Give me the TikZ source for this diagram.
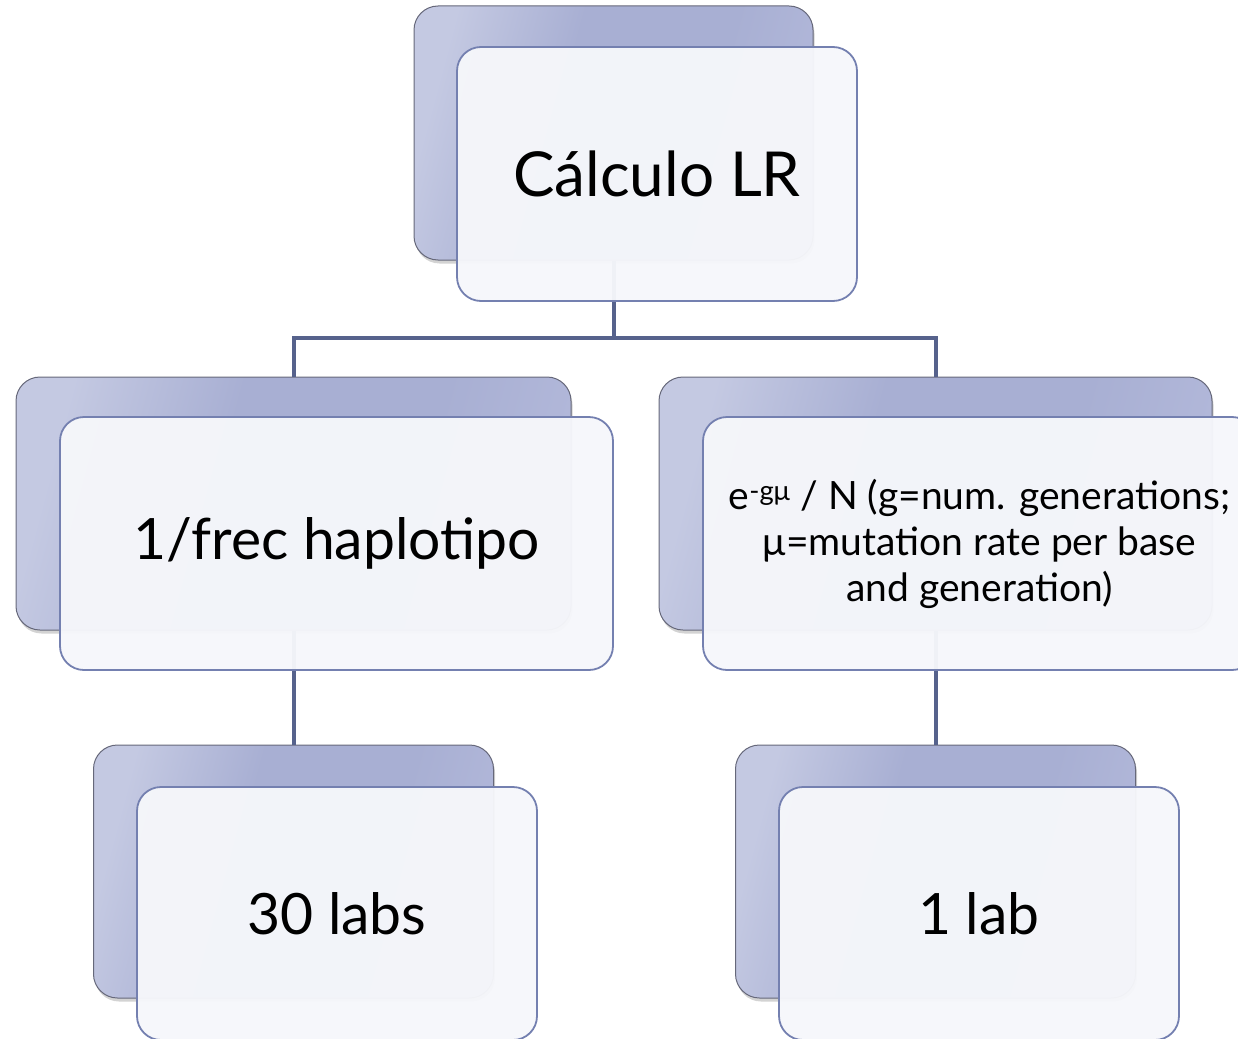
\documentclass[tikz,border=0pt]{standalone}
\usepackage{fontspec}
\setmainfont{Lato}
\usetikzlibrary{shadows}
\definecolor{backA}{HTML}{C4C9E2}
\definecolor{backB}{HTML}{A8AFD3}
\definecolor{backC}{HTML}{B1B7D9}
\definecolor{backedge}{HTML}{66687A}
\definecolor{frontfill}{HTML}{F6F7FB}
\definecolor{frontedge}{HTML}{7480B0}
\definecolor{linkcol}{HTML}{56628C}
% light on the left, deeper blue through the middle, a little lighter at the right
\pgfdeclarehorizontalshading{backshade}{100bp}{%
  color(0bp)=(backA); color(25bp)=(backA); color(42bp)=(backB);
  color(62bp)=(backB); color(75bp)=(backC); color(100bp)=(backC)}
\tikzset{
  backbox/.style={rectangle, rounded corners=24pt, inner sep=0pt,
    draw=backedge, line width=1pt,
    shading=backshade, shading angle=-15,
    drop shadow={opacity=0.35, shadow xshift=1.5pt, shadow yshift=-3.5pt}},
  frontbox/.style={rectangle, rounded corners=24pt, inner sep=0pt,
    draw=frontedge, line width=1.8pt, fill=frontfill, fill opacity=0.96,
    draw opacity=1, text opacity=1, text=black, align=center},
  conn/.style={draw=linkcol, line width=4pt},
  big/.style={font=\fontsize{62}{66}\selectfont},
  mid/.style={font=\fontsize{57}{62}\selectfont},
  small/.style={font=\fontsize{39}{46}\selectfont}
}
\begin{document}
\begin{tikzpicture}[x=1pt, y=-1pt]
  \useasboundingbox (0,0) rectangle (1238,1038);
  \clip (0,0) rectangle (1238,1038);

  % connector junction on the horizontal bus
  \coordinate (bus) at (613.5,338);

  % back (shadowed) boxes
  \node[backbox, minimum width=399pt, minimum height=254pt] (b1) at (613.5,133) {};
  \node[backbox, minimum width=555pt, minimum height=253pt] (b2) at (293.5,503.5) {};
  \node[backbox, minimum width=553pt, minimum height=253pt] (b3) at (935.5,503.5) {};
  \node[backbox, minimum width=400pt, minimum height=253pt] (b4) at (293.5,871.5) {};
  \node[backbox, minimum width=400pt, minimum height=253pt] (b5) at (935.5,871.5) {};

  % tree connectors
  \draw[conn] (b1.south) -- (bus);
  \draw[conn] (b2.north) |- (bus) -| (b3.north);
  \draw[conn] (b2.south) -- (b4.north);
  \draw[conn] (b3.south) -- (b5.north);

  % front (text) boxes
  \node[frontbox, big, minimum width=400pt, minimum height=254pt] (f1) at (657,174) {Cálculo LR};
  \node[frontbox, mid, minimum width=553pt, minimum height=253pt] (f2) at (336.5,543.5) {1/frec haplotipo};
  \node[frontbox, small, minimum width=553pt, minimum height=253pt] (f3) at (979.5,543.5)
    {e\textsuperscript{-gμ} / N (g=num. generations;\\ μ=mutation rate per base\\ and generation)};
  \node[frontbox, mid, minimum width=400pt, minimum height=253pt] (f4) at (337,913.5) {30 labs};
  \node[frontbox, mid, minimum width=400pt, minimum height=253pt] (f5) at (979,913.5) {1 lab};
\end{tikzpicture}
\end{document}
